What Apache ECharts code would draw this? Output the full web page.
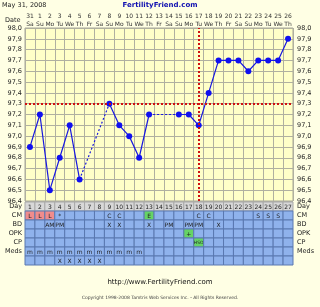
<!DOCTYPE html>
<html><head><meta charset="utf-8">
<script src="https://cdn.jsdelivr.net/npm/echarts@6/dist/echarts.min.js"></script>
<style>html,body{margin:0;padding:0;background:#FFFFE4;}#c{width:320px;height:307px;}</style>
</head><body><div id="c"></div>
<script>
var days = ['1','2','3','4','5','6','7','8','9','10','11','12','13','14','15','16','17','18','19','20','21','22','23','24','25','26','27'];
var dates = ['31','1','2','3','4','5','6','7','8','9','10','11','12','13','14','15','16','17','18','19','20','21','22','23','24','25','26'];
var weekdays = ['Sa','Su','Mo','Tu','We','Th','Fr','Sa','Su','Mo','Tu','We','Th','Fr','Sa','Su','Mo','Tu','We','Th','Fr','Sa','Su','Mo','Tu','We','Th'];
var temps = [96.9,97.2,96.5,96.8,97.1,96.6,null,null,97.3,97.1,97.0,96.8,97.2,null,null,97.2,97.2,97.1,97.4,97.7,97.7,97.7,97.6,97.7,97.7,97.7,97.9];
var coverline = 97.3;
var ovulationDay = '18';
var rowNames = ['Day','CM','BD','OPK','CP','Meds',''];
var cmRow   = ['L','L','L','*','','','','','C','C','','','E','','','','','C','C','','','','','S','S','S',''];
var bdRow   = ['','','AM','PM','','','','','X','X','','','X','','PM','','PM','PM','','X','','','','','','',''];
var opkRow  = ['','','','','','','','','','','','','','','','','+','','','','','','','','','',''];
var cpRow   = ['','','','','','','','','','','','','','','','','','HSO','','','','','','','','',''];
var medsRow = ['m','m','m','m','m','m','m','m','m','m','m','m','','','','','','','','','','','','','','',''];
var extraRow= ['','','','X','X','X','X','X','','','','','','','','','','','','','','','','','','',''];
var cmColor = {'L':'#F08C8C','E':'#66D466'};
var greenCell = '#66D466';

var bridge = [];
(function(){
  var last = -1;
  for (var i = 0; i < temps.length; i++) {
    if (temps[i] != null) {
      if (last >= 0 && i - last > 1) {
        if (bridge.length) bridge.push('-');
        bridge.push([last, temps[last]]);
        bridge.push([i, temps[i]]);
      }
      last = i;
    }
  }
})();

var rows = [days, cmRow, bdRow, opkRow, cpRow, medsRow, extraRow];
var cells = [];
for (var r = 0; r < rows.length; r++) {
  for (var d = 0; d < days.length; d++) {
    var t = rows[r][d];
    var col = '#8FB2EC';
    if (r === 0) col = '#D8D8D8';
    else if (r === 1 && cmColor[t]) col = cmColor[t];
    else if ((r === 3 || r === 4) && t) col = greenCell;
    cells.push([d, r, t, col]);
  }
}

var font = 'DejaVu Sans';
var fmt = function(v){ return v.toFixed(1).replace('.', ','); };
var chart = echarts.init(document.getElementById('c'));
chart.setOption({
  animation: false,
  backgroundColor: '#FFFFE4',
  title: [
    {text: 'May 31, 2008', left: 2, top: 2, padding: 0, textStyle: {fontSize: 6.5, fontWeight: 'normal', color: '#222', fontFamily: font}},
    {text: 'FertilityFriend.com', left: 'center', top: 2, padding: 0, textStyle: {fontSize: 7, fontWeight: 'bold', color: '#1010B0', fontFamily: font}},
    {text: 'Date', left: 5, top: 17, padding: 0, textStyle: {fontSize: 6.5, fontWeight: 'normal', color: '#222', fontFamily: font}},
    {text: 'http://www.FertilityFriend.com', left: 'center', top: 279, padding: 0, textStyle: {fontSize: 7, fontWeight: 'normal', color: '#111', fontFamily: font}},
    {text: 'Copyright 1998-2008 Tamtris Web Services Inc. - All Rights Reserved.', left: 'center', top: 295, padding: 0, textStyle: {fontSize: 4.5, fontWeight: 'normal', color: '#444', fontFamily: font}}
  ],
  grid: [
    {left: 25, right: 27, top: 28, height: 173, show: true, backgroundColor: '#FFFFC8', borderColor: '#A8A898', borderWidth: 1},
    {left: 25, right: 27, top: 202, height: 63, show: false}
  ],
  xAxis: [
    {type: 'category', gridIndex: 0, data: days, boundaryGap: true,
     axisLine: {show: false}, axisTick: {show: false}, axisLabel: {show: false},
     splitLine: {show: true, interval: 0, lineStyle: {color: '#B0B0A0', width: 1}}},
    {type: 'category', gridIndex: 0, position: 'top', data: days, boundaryGap: true,
     axisLine: {show: false}, axisTick: {show: false},
     axisLabel: {interval: 0, margin: 0, fontSize: 6, lineHeight: 8, color: '#333', fontFamily: font,
       formatter: function(v, i){ return dates[i] + '\n' + weekdays[i]; }}},
    {type: 'category', gridIndex: 1, data: days, boundaryGap: true, show: false}
  ],
  yAxis: [
    {type: 'value', gridIndex: 0, min: 96.4, max: 98.0, interval: 0.1, position: 'left',
     axisLine: {show: false}, axisTick: {show: false},
     axisLabel: {margin: 3, fontSize: 6.5, color: '#222', fontFamily: font, formatter: fmt},
     splitLine: {show: true, lineStyle: {color: '#B0B0A0', width: 1}}},
    {type: 'value', gridIndex: 0, min: 96.4, max: 98.0, interval: 0.1, position: 'right',
     axisLine: {show: false}, axisTick: {show: false}, splitLine: {show: false},
     axisLabel: {margin: 4, fontSize: 6.5, color: '#222', fontFamily: font, formatter: fmt}},
    {type: 'category', gridIndex: 1, data: rowNames, inverse: true, position: 'left',
     axisLine: {show: false}, axisTick: {show: false}, splitLine: {show: false},
     axisLabel: {interval: 0, margin: 3, fontSize: 6.5, color: '#222', fontFamily: font}},
    {type: 'category', gridIndex: 1, data: rowNames, inverse: true, position: 'right',
     axisLine: {show: false}, axisTick: {show: false}, splitLine: {show: false},
     axisLabel: {interval: 0, margin: 4, fontSize: 6.5, color: '#222', fontFamily: font, align: 'left'}}
  ],
  series: [
    {type: 'line', xAxisIndex: 0, yAxisIndex: 0, data: bridge, symbol: 'none', z: 3,
     lineStyle: {color: '#1818E0', width: 1.2, type: [2, 2]}, silent: true},
    {type: 'line', xAxisIndex: 0, yAxisIndex: 0, data: temps, connectNulls: false, z: 4,
     symbol: 'circle', symbolSize: 6, itemStyle: {color: '#1010F0'},
     lineStyle: {color: '#1818E0', width: 1.2},
     markLine: {silent: true, symbol: 'none', label: {show: false},
       lineStyle: {color: '#D01010', width: 2, type: [2, 2]},
       data: [{yAxis: coverline}, {xAxis: ovulationDay}]}},
    {type: 'custom', xAxisIndex: 2, yAxisIndex: 2, data: cells,
     renderItem: function(params, api){
       var p = api.coord([api.value(0), api.value(1)]);
       var s = api.size([1, 1]);
       var text = cells[params.dataIndex][2];
       var fill = cells[params.dataIndex][3];
       var children = [{type: 'rect', shape: {x: p[0] - s[0]/2, y: p[1] - s[1]/2, width: s[0], height: s[1]},
         style: {fill: fill, stroke: params.dataIndex < days.length ? '#A8A8A8' : '#5A78B0', lineWidth: 1}}];
       if (text) children.push({type: 'text', style: {text: text, x: p[0], y: p[1] + 0.5, align: 'center', verticalAlign: 'middle',
         fontSize: text.length > 2 ? 4.5 : 6, fontFamily: font, fill: '#222'}});
       return {type: 'group', children: children};
     }}
  ]
});
</script></body></html>
